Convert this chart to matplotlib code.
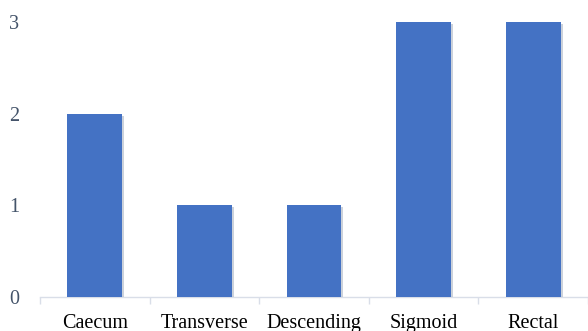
import matplotlib.pyplot as plt
import matplotlib.patheffects as pe

sites = ['Caecum', 'Transverse', 'Descending', 'Sigmoid', 'Rectal']
counts = [2, 1, 1, 3, 3]

plt.rcParams['font.family'] = ['Liberation Serif', 'DejaVu Serif']

fig = plt.figure(figsize=(5.88, 3.31), dpi=100)
ax = fig.add_axes([40 / 588, 1 - 297 / 331, 548 / 588, 275 / 331])

bars = ax.bar(range(len(sites)), counts, width=0.5, color='#4472C4', zorder=3)
for b in bars:
    b.set_path_effects([pe.SimplePatchShadow(offset=(1.5, -1.5), shadow_rgbFace='#9aa6b8', alpha=0.5),
                        pe.Normal()])

ax.set_xlim(-0.5, len(sites) - 0.5)
ax.set_ylim(0, 3)
ax.set_yticks([0, 1, 2, 3])

# category separators as ticks along the baseline
ax.set_xticks([i - 0.5 for i in range(len(sites) + 1)], minor=True)
ax.set_xticks(range(len(sites)))
ax.set_xticklabels(sites, fontsize=14.5, color='black')
ax.tick_params(axis='x', which='major', length=0, pad=12)
ax.tick_params(axis='x', which='minor', length=5, color='#D9DEE8', width=1)
ax.tick_params(axis='y', length=0, pad=15, labelsize=14.5, labelcolor='#44546A')

for s in ['top', 'right', 'left']:
    ax.spines[s].set_visible(False)
ax.spines['bottom'].set_color('#D9DEE8')
ax.spines['bottom'].set_linewidth(1)

fig.savefig('out.png', dpi=100)
